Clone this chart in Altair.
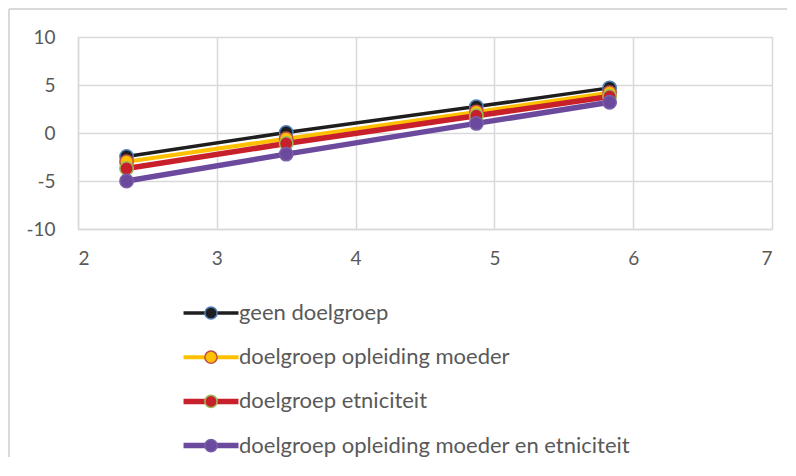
import altair as alt
import pandas as pd

x_vals = [2.35, 3.5, 4.87, 5.83]
series_names = [
    "geen doelgroep",
    "doelgroep opleiding moeder",
    "doelgroep etniciteit",
    "doelgroep opleiding moeder en etniciteit",
]
geen = [-2.45, 0.05, 2.75, 4.7]
opleiding = [-3.0, -0.6, 2.2, 4.2]
etniciteit = [-3.7, -1.1, 1.8, 3.8]
beide = [-5.0, -2.2, 1.0, 3.2]

line_colors = ["#1e1e1e", "#ffc000", "#c8202a", "#6b4a9e"]
edge_colors = ["#4f81bd", "#c0504d", "#9bbb59", "#7a5fa8"]
line_widths = [3.5, 4, 5.5, 5.5]

x_ticks = [2, 3, 4, 5, 6, 7]
y_ticks = [-10, -5, 0, 5, 10]

rows = []
for k, (name, vals) in enumerate(zip(series_names, [geen, opleiding, etniciteit, beide])):
    for i, (xv, yv) in enumerate(zip(x_vals, vals)):
        rows.append({"serie": name, "k": k, "x": xv, "y": yv, "i": i})
df = pd.DataFrame(rows)

FONT = "Lato"
TXT = "#595959"
GRID = "#d9d9d9"

xenc = alt.X("x:Q", scale=alt.Scale(domain=[2, 7], nice=False),
             axis=alt.Axis(values=x_ticks, title=None, grid=True, ticks=False,
                           labelExpr="'' + datum.value",
                           labelPadding=20, labelFontSize=19, labelColor=TXT,
                           labelFont=FONT, domainColor=GRID, domainWidth=1.5,
                           gridColor=GRID, gridWidth=1.5))
yenc = alt.Y("y:Q", scale=alt.Scale(domain=[-10, 10], nice=False),
             axis=alt.Axis(values=y_ticks, title=None, grid=True, ticks=False,
                           labelExpr="'' + datum.value",
                           labelPadding=23, labelFontSize=19, labelColor=TXT,
                           labelFont=FONT, domainColor=GRID, domainWidth=1.5,
                           gridColor=GRID, gridWidth=1.5))

LEG_X = 122
LEG_Y = 265
common_leg = dict(orient="none", legendX=LEG_X, legendY=LEG_Y, title=None,
                  direction="vertical", symbolSize=149, labelOffset=17,
                  rowPadding=22.2, padding=0, labelFontSize=22, labelFont=FONT,
                  labelColor=TXT, labelLimit=600)

idx = list(range(len(series_names)))

lines = alt.Chart(df).mark_line().encode(
    x=xenc, y=yenc,
    color=alt.Color("k:O", scale=alt.Scale(domain=idx, range=line_colors),
                    legend=alt.Legend(symbolType="M-4.5,0L4.5,0", symbolStrokeWidth=4,
                                      labelExpr="''", zindex=1, **common_leg)),
    strokeWidth=alt.StrokeWidth("k:N", scale=alt.Scale(type="ordinal", domain=idx,
                                                       range=line_widths),
                                legend=None),
    detail="k:O",
    order="i:Q",
)

pt_leg = alt.Legend(symbolType="circle", symbolStrokeWidth=1.5, zindex=2, **common_leg)
points = alt.Chart(df).mark_point(filled=True, size=180, opacity=1, strokeWidth=1.5).encode(
    x="x:Q", y="y:Q",
    fill=alt.Fill("serie:N", scale=alt.Scale(domain=series_names, range=line_colors), legend=pt_leg),
    stroke=alt.Stroke("serie:N", scale=alt.Scale(domain=series_names, range=edge_colors), legend=pt_leg),
)

border_left = alt.Chart(df).mark_rule(color="#d9d9d9", strokeWidth=1.5).encode(
    x=alt.value(-69), y=alt.value(-28), y2=alt.value(420))
border_top = alt.Chart(df).mark_rule(color="#d9d9d9", strokeWidth=1.5).encode(
    y=alt.value(-28), x=alt.value(-69), x2=alt.value(709))

chart = alt.layer(border_left, border_top, lines, points).properties(
    width=694, height=192,
    padding={"left": 0, "top": 0, "right": 0, "bottom": 0},
).configure_view(stroke=None).configure(background="white")

chart.save("out.html", embed_options={"renderer": "svg", "actions": False})
